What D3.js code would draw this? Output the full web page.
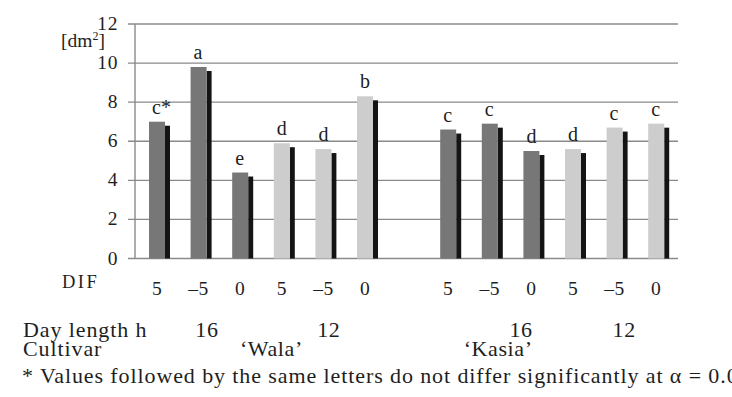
<!DOCTYPE html>
<html>
<head>
<meta charset="utf-8">
<script src="https://cdn.jsdelivr.net/npm/d3@7"></script>
<style>
  html, body { margin: 0; padding: 0; background: #fff; }
  svg { display: block; }
</style>
</head>
<body>
<svg id="chart" width="732" height="397"></svg>
<script>
// Leaf area [dm2] per plant for two cultivars under DIF treatments and day length
const cultivars = ["\u2018Wala\u2019", "\u2018Kasia\u2019"];
const difLabels = ["5", "\u20135", "0", "5", "\u20135", "0"];
const dayLengths = [16, 16, 16, 12, 12, 12];
const walaValues = [7.0, 9.8, 4.4, 5.9, 5.6, 8.3];
const kasiaValues = [6.6, 6.9, 5.5, 5.6, 6.7, 6.9];
const walaLetters = ["c*", "a", "e", "d", "d", "b"];
const kasiaLetters = ["c", "c", "d", "d", "c", "c"];
const yTicks = [0, 2, 4, 6, 8, 10, 12];
const footnote = "* Values followed by the same letters do not differ significantly at \u03b1 = 0.05";

// one row per bar; a blank slot separates the two cultivars
const bars = [];
walaValues.forEach((v, i) => bars.push({ slot: i, value: v, letter: walaLetters[i], dif: difLabels[i], day: dayLengths[i] }));
kasiaValues.forEach((v, i) => bars.push({ slot: i + 7, value: v, letter: kasiaLetters[i], dif: difLabels[i], day: dayLengths[i] }));

const FONT = "Liberation Serif";
const INK = "#1e1e1e";
const svg = d3.select("#chart");

const y = d3.scaleLinear().domain([0, 12]).range([258.5, 24]);
const x = d3.scaleBand().domain(d3.range(13)).range([139, 139 + 13 * 41.6]).padding(0);

const barOffset = 10, barW = 16, shadowW = 5, shadowDrop = 4;
const barLeft = d => x(d.slot) + barOffset;
const barMid = d => x(d.slot) + barOffset + barW / 2;
const slotPos = s => x(0) + barOffset + barW / 2 + s * x.step();

function label(g, px, py, s, size, anchor, spacing) {
  return g.append("text")
    .attr("x", px).attr("y", py)
    .attr("font-family", FONT)
    .attr("font-size", size)
    .attr("letter-spacing", spacing || 0)
    .attr("fill", INK)
    .attr("text-anchor", anchor || "start")
    .text(s);
}

// gridlines with left tick marks
const grid = svg.append("g");
grid.selectAll("line.grid").data(yTicks).join("line")
  .attr("class", "grid")
  .attr("x1", 128).attr("x2", 678)
  .attr("y1", d => y(d)).attr("y2", d => y(d))
  .attr("stroke", "#8a8a8a").attr("stroke-width", 1.4);
grid.append("line")
  .attr("x1", 135).attr("x2", 135)
  .attr("y1", y(12)).attr("y2", y(0))
  .attr("stroke", "#8a8a8a").attr("stroke-width", 1.4);

// y tick labels
const yl = svg.append("g");
yTicks.forEach(t => label(yl, 118, y(t) + 6, String(t), 19.5, "end", 0.6));

// unit label
const unit = svg.append("text")
  .attr("x", 61).attr("y", 47)
  .attr("font-family", FONT).attr("font-size", 19.5).attr("fill", INK);
unit.append("tspan").text("[dm");
unit.append("tspan").attr("font-size", 12).attr("dy", -7).text("2");
unit.append("tspan").attr("dy", 7).text("]");

// bars: black shadow strip behind and to the right, then the grey bar
const gb = svg.append("g");
gb.selectAll("rect.shadow").data(bars).join("rect")
  .attr("class", "shadow")
  .attr("x", d => barLeft(d) + barW)
  .attr("width", shadowW)
  .attr("y", d => y(d.value) + shadowDrop)
  .attr("height", d => y(0) - y(d.value) - shadowDrop)
  .attr("fill", "#141414");
gb.selectAll("rect.bar").data(bars).join("rect")
  .attr("class", "bar")
  .attr("x", d => barLeft(d))
  .attr("width", barW)
  .attr("y", d => y(d.value))
  .attr("height", d => y(0) - y(d.value))
  .attr("fill", d => d.day === 16 ? "#777777" : "#cdcdcd");

// significance letters, centred on the bar; an asterisk hangs to the right
const lg = svg.append("g");
bars.forEach(d => label(lg, barMid(d) - 5, y(d.value) - 8, d.letter, 20, "start"));

// DIF row
const xr = svg.append("g");
label(xr, 62, 288, "DIF", 18.5, "start", 2.5);
bars.forEach(d => label(xr, barMid(d), 295, d.dif, 19.5, "middle", 0.5));

// day length row
label(xr, 23, 337, "Day length h", 22, "start", 0.9);
[[1.2, "16"], [4.13, "12"], [8.75, "16"], [11.23, "12"]].forEach(([s, t]) => label(xr, slotPos(s), 337, t, 22, "middle", 0.6));

// cultivar row
label(xr, 23, 356, "Cultivar", 22, "start", 0.9);
label(xr, slotPos(2.75), 356, cultivars[0], 22, "middle", 0.6);
label(xr, slotPos(8.2), 356, cultivars[1], 22, "middle", 0.6);

// footnote
label(xr, 22, 383, footnote, 22, "start", 0.9);
</script>
</body>
</html>
